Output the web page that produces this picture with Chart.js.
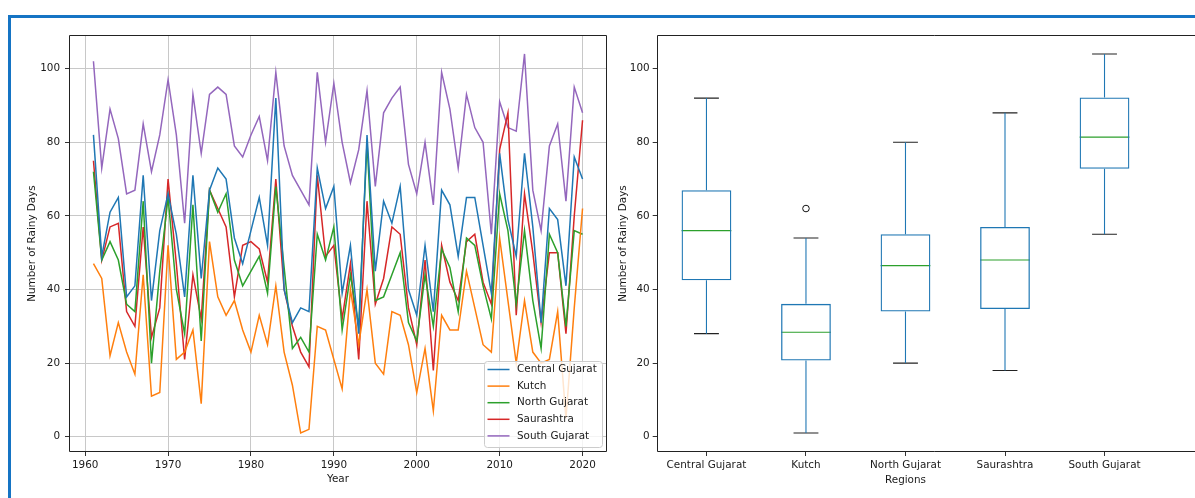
<!DOCTYPE html>
<html lang="en">
<head>
<meta charset="UTF-8">
<title>Rainy Days by Region</title>
<script src="https://cdn.jsdelivr.net/npm/chart.js"></script>
<style>
  html, body { margin: 0; padding: 0; background: #fff; overflow: hidden; }
  #wrap { position: relative; width: 1195px; height: 498px; overflow: hidden; }
  #frame { position: absolute; left: 8px; top: 15px; right: 0; bottom: 0;
           border-top: 3px solid #1574c4; border-left: 3px solid #1574c4; }
  #lineChart { position: absolute; left: 0; top: 0; }
  #boxChart { position: absolute; left: 615px; top: 0; }
</style>
</head>
<body>
<div id="wrap">
  <div id="frame"></div>
  <canvas id="lineChart" width="620" height="498"></canvas>
  <canvas id="boxChart" width="600" height="498"></canvas>
</div>

<script>
// yearly rainy days per region
const years = [1961,1962,1963,1964,1965,1966,1967,1968,1969,1970,
               1971,1972,1973,1974,1975,1976,1977,1978,1979,1980,
               1981,1982,1983,1984,1985,1986,1987,1988,1989,1990,
               1991,1992,1993,1994,1995,1996,1997,1998,1999,2000,
               2001,2002,2003,2004,2005,2006,2007,2008,2009,2010,
               2011,2012,2013,2014,2015,2016,2017,2018,2019,2020];

const central = [82,49,61,65,38,41,71,37,56,66, 55,38,71,43,67,73,70,54,47,56,
                 65,52,92,40,31,35,34,73,62,68, 39,52,28,82,45,64,58,68,40,33,
                 52,34,67,63,49,65,65,52,39,77, 59,49,77,57,31,62,59,41,76,70];
const kutch = [47,43,22,31,23,17,44,11,12,52, 21,23,29,9,53,38,33,37,29,23,
               33,25,41,23,14,1,2,30,29,21, 13,40,25,40,20,17,34,33,25,12,
               24,7,33,29,29,45,35,25,23,54, 37,20,37,23,20,21,34,5,35,62];
const north = [72,48,53,48,36,34,64,20,45,65, 40,28,63,26,67,61,66,48,41,45,
               49,39,68,46,24,27,23,55,48,57, 29,44,30,80,37,38,44,50,31,26,
               44,30,51,46,34,54,52,41,32,66, 56,36,56,37,24,55,50,30,56,55];
const saurashtra = [75,48,57,58,34,30,57,27,35,70, 47,21,44,32,67,62,57,38,52,53,
                    51,42,70,40,30,23,19,71,49,52, 32,47,21,64,36,43,57,55,35,25,
                    48,18,52,42,37,53,55,42,36,78, 88,33,66,50,31,50,50,28,60,86];
const south = [102,73,89,81,66,67,85,72,82,97, 82,58,93,77,93,95,93,79,76,82,
               87,75,99,79,71,67,63,99,80,96, 80,69,78,94,68,88,92,95,74,66,
               80,63,99,89,73,93,84,80,55,91, 84,83,104,67,56,79,85,64,95,88];

// box plot summary per region
const regions = ['Central Gujarat','Kutch','North Gujarat','Saurashtra','South Gujarat'];
const boxLow    = [28, 1, 20, 18, 55];
const boxQ1     = [42.5, 20.7, 34, 34.7, 72.8];
const boxMedian = [56, 28.4, 46.5, 48, 81.4];
const boxQ3     = [67, 36.1, 55, 57, 92.2];
const boxHigh   = [92, 54, 80, 88, 104];
const outlierRegion = ['Kutch'];
const outlierValue  = [62];

const yearTicks = [1960,1970,1980,1990,2000,2010,2020];
const valueTicks = [0,20,40,60,80,100];

const seriesData = [central, kutch, north, saurashtra, south];
const lineColors = ['#1f77b4','#ff7f0e','#2ca02c','#d62728','#9467bd'];

const font = { family: 'DejaVu Sans', size: 10.4 };
const textColor = '#1a1a1a';

// spines drawn around the plot area (matplotlib style)
const framePlugin = {
  id: 'frame',
  afterDatasetsDraw(chart, args, opts) {
    const { ctx, chartArea: a } = chart;
    const l = Math.round(a.left) + 0.5, r = Math.round(a.right) - 0.5;
    const t = Math.round(a.top) + 0.5, b = Math.round(a.bottom) - 0.5;
    ctx.save();
    ctx.strokeStyle = '#222';
    ctx.lineWidth = 1;
    ctx.beginPath();
    if (opts.right === false) {
      ctx.moveTo(a.right + 1, t); ctx.lineTo(l, t); ctx.lineTo(l, b); ctx.lineTo(a.right + 1, b);
    } else {
      ctx.rect(l, t, r - l, b - t);
    }
    ctx.stroke();
    ctx.restore();
  }
};

// legend box inside the lower right corner of the line plot
const insideLegend = {
  id: 'insideLegend',
  afterDraw(chart) {
    const { ctx, chartArea: a } = chart;
    const w = 118, h = 86, rowH = 16.6;
    const x0 = Math.round(a.right - 5 - w), y0 = Math.round(a.bottom - 5 - h);
    ctx.save();
    ctx.fillStyle = 'rgba(255,255,255,0.8)';
    ctx.strokeStyle = '#cccccc';
    ctx.lineWidth = 1;
    ctx.beginPath();
    ctx.roundRect(x0 + 0.5, y0 + 0.5, w, h, 3);
    ctx.fill();
    ctx.stroke();
    ctx.font = font.size + 'px "DejaVu Sans"';
    ctx.textBaseline = 'middle';
    chart.data.datasets.forEach((ds, i) => {
      const cy = y0 + 8.5 + i * rowH;
      ctx.strokeStyle = ds.borderColor;
      ctx.lineWidth = 1.5;
      ctx.beginPath();
      ctx.moveTo(x0 + 3.5, cy);
      ctx.lineTo(x0 + 25.5, cy);
      ctx.stroke();
      ctx.fillStyle = textColor;
      ctx.fillText(ds.label, x0 + 33, cy);
    });
    ctx.restore();
  }
};

// x axis title of the box plot, centred under the middle region
const regionTitle = {
  id: 'regionTitle',
  afterDraw(chart) {
    const { ctx, scales } = chart;
    ctx.save();
    ctx.font = font.size + 'px "DejaVu Sans"';
    ctx.fillStyle = textColor;
    ctx.textAlign = 'center';
    ctx.textBaseline = 'middle';
    ctx.fillText('Regions', scales.x.getPixelForValue((1 + regions.length) / 2), 480);
    ctx.restore();
  }
};

new Chart(document.getElementById('lineChart'), {
  type: 'line',
  data: {
    datasets: regions.map((name, i) => ({
      label: name,
      data: years.map((yr, j) => ({ x: yr, y: seriesData[i][j] })),
      borderColor: lineColors[i],
      backgroundColor: lineColors[i],
      borderWidth: 1.5,
      pointRadius: 0,
      tension: 0,
      fill: false
    }))
  },
  options: {
    responsive: false,
    animation: false,
    layout: { padding: { top: 35, right: 13, left: 0, bottom: 0 } },
    plugins: { legend: { display: false }, tooltip: { enabled: false } },
    scales: {
      x: {
        type: 'linear', min: 1958.05, max: 2022.95,
        afterBuildTicks: s => { s.ticks = yearTicks.map(v => ({ value: v })); },
        afterFit: s => { s.height = 46; },
        grid: { color: '#c8c8c8', lineWidth: 1, tickColor: '#333', tickLength: 4 },
        border: { display: false },
        ticks: { font, color: textColor, padding: 3, maxRotation: 0, callback: v => String(v) },
        title: { display: true, text: 'Year', font, color: textColor, padding: { top: 0, bottom: 12 } }
      },
      y: {
        min: -4.15, max: 109.15,
        afterBuildTicks: s => { s.ticks = valueTicks.map(v => ({ value: v })); },
        afterFit: s => { s.width = 69; },
        grid: { color: '#c8c8c8', lineWidth: 1, tickColor: '#333', tickLength: 4 },
        border: { display: false },
        ticks: { font, color: textColor, padding: 5 },
        title: { display: true, text: 'Number of Rainy Days', font, color: textColor, padding: { top: 26, bottom: 0 } }
      }
    }
  },
  plugins: [framePlugin, insideLegend]
});

// whiskers, caps and medians built from the box summary
const whiskerPts = [], capPts = [], medianPts = [];
regions.forEach((r, i) => {
  const x = i + 1;
  whiskerPts.push({ x, y: boxHigh[i] }, { x, y: boxQ3[i] }, { x, y: null },
                  { x, y: boxQ1[i] }, { x, y: boxLow[i] }, { x, y: null });
  capPts.push({ x: x - 0.125, y: boxHigh[i] }, { x: x + 0.125, y: boxHigh[i] }, { x, y: null },
              { x: x - 0.125, y: boxLow[i] }, { x: x + 0.125, y: boxLow[i] }, { x, y: null });
  medianPts.push({ x: x - 0.25, y: boxMedian[i] }, { x: x + 0.25, y: boxMedian[i] }, { x, y: null });
});

const lineSeg = { type: 'line', borderWidth: 1.1, pointRadius: 0, tension: 0, spanGaps: false, fill: false };

new Chart(document.getElementById('boxChart'), {
  type: 'bar',
  data: {
    datasets: [
      {
        type: 'bar',
        data: regions.map((r, i) => ({ x: i + 1, y: [boxQ1[i], boxQ3[i]] })),
        backgroundColor: 'rgba(0,0,0,0)',
        borderColor: '#1f77b4',
        borderWidth: 1.3,
        borderSkipped: false,
        barPercentage: 0.5,
        categoryPercentage: 1
      },
      Object.assign({ data: whiskerPts, borderColor: '#1f77b4' }, lineSeg),
      Object.assign({ data: capPts, borderColor: '#222' }, lineSeg),
      Object.assign({ data: medianPts, borderColor: '#2ca02c' }, lineSeg),
      {
        type: 'scatter',
        data: outlierRegion.map((r, i) => ({ x: regions.indexOf(r) + 1, y: outlierValue[i] })),
        pointRadius: 3.3,
        pointBorderWidth: 1,
        pointBorderColor: '#111',
        pointBackgroundColor: 'rgba(0,0,0,0)'
      }
    ]
  },
  options: {
    responsive: false,
    animation: false,
    layout: { padding: { top: 35, right: 0, left: 0, bottom: 0 } },
    plugins: { legend: { display: false }, tooltip: { enabled: false }, frame: { right: false } },
    scales: {
      x: {
        type: 'linear', min: 0.5, max: 6.06, offset: false,
        afterBuildTicks: s => { s.ticks = regions.map((r, i) => ({ value: i + 1 })); },
        afterFit: s => { s.height = 46; s.paddingLeft = 0; s.paddingRight = 0; },
        grid: { drawOnChartArea: false, offset: false, tickColor: '#333', tickLength: 4 },
        border: { display: false },
        ticks: { font, color: textColor, padding: 3, maxRotation: 0, autoSkip: false,
                 callback: v => regions[v - 1] },
        title: { display: false }
      },
      y: {
        min: -4.15, max: 109.15,
        afterBuildTicks: s => { s.ticks = valueTicks.map(v => ({ value: v })); },
        afterFit: s => { s.width = 41.7; },
        grid: { drawOnChartArea: false, tickColor: '#333', tickLength: 4 },
        border: { display: false },
        ticks: { font, color: textColor, padding: 3 },
        title: { display: true, text: 'Number of Rainy Days', font, color: textColor, padding: { top: 2, bottom: 0 } }
      }
    }
  },
  plugins: [framePlugin, regionTitle]
});
</script>
</body>
</html>
